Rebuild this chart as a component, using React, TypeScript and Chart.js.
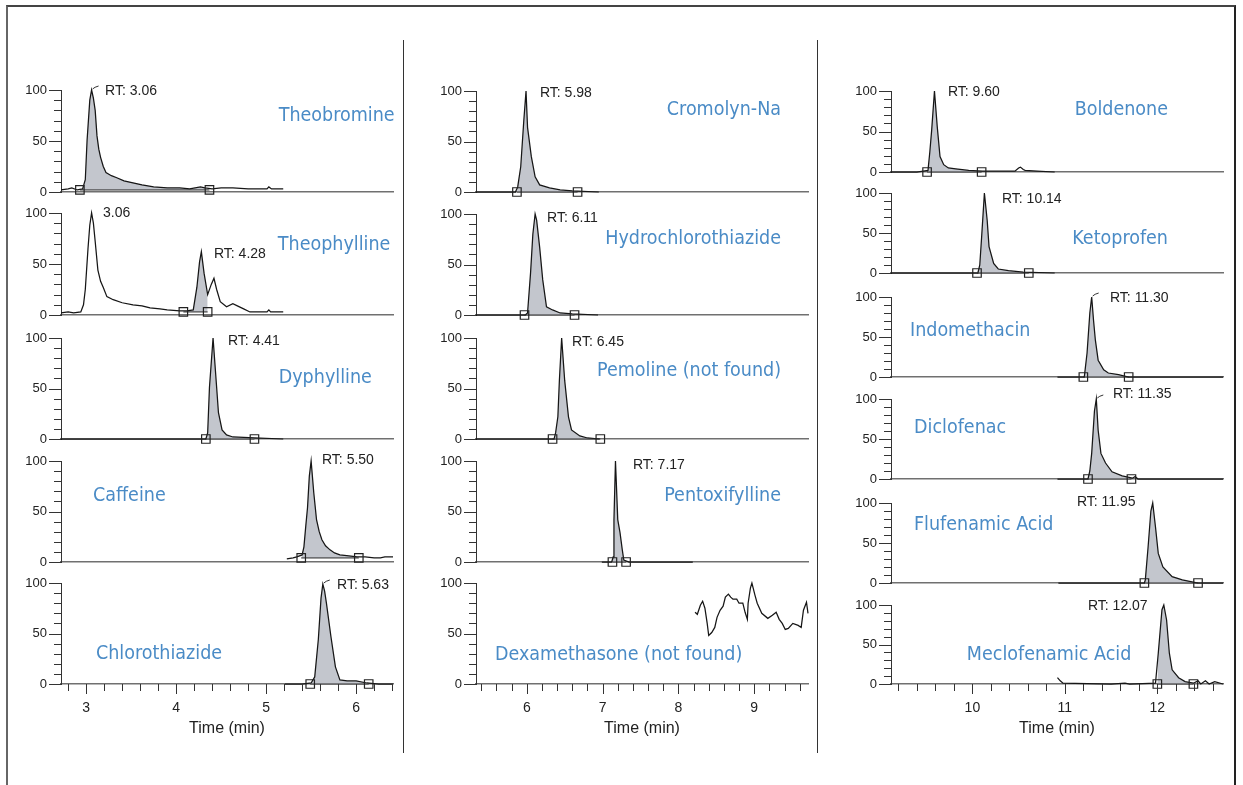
import React, { useEffect, useRef } from "react";
import { Chart, registerables } from "chart.js";

Chart.register(...registerables);

type Pt = [number, number];

// ---------- Column 1 traces: [time (min), relative abundance (%)] ----------
const theobromine: Pt[] = [[2.72,2],[2.8,3],[2.84,4],[2.9,2],[2.96,3],[2.99,12],[3.01,51],[3.04,90],[3.06,100],[3.08,92],[3.1,80],[3.12,55],[3.14,42],[3.16,34],[3.19,25],[3.22,19],[3.28,16],[3.34,14],[3.42,11],[3.52,9],[3.62,7],[3.75,5],[3.9,4],[4.04,4],[4.15,3],[4.27,5],[4.32,4],[4.4,3],[4.5,4],[4.63,4],[4.8,3],[5.01,3],[5.03,5],[5.06,3],[5.19,3]];
const theobromineMarks: Pt[] = [[2.93,2],[4.37,2]];

const theophylline: Pt[] = [[2.72,2],[2.8,3],[2.86,2],[2.94,3],[2.97,10],[2.99,25],[3.02,65],[3.04,88],[3.06,100],[3.08,90],[3.1,72],[3.13,44],[3.16,33],[3.19,27],[3.23,18],[3.3,15],[3.4,12],[3.52,10],[3.62,9],[3.71,7],[3.82,6],[3.9,5],[4.04,4],[4.12,4],[4.19,5],[4.23,27],[4.26,52],[4.28,62],[4.31,41],[4.35,20],[4.39,30],[4.42,36],[4.45,25],[4.49,13],[4.56,8],[4.63,11],[4.68,9],[4.75,6],[4.82,3],[5.01,3],[5.03,5],[5.05,3],[5.19,3]];
const theophyllineMarks: Pt[] = [[4.08,3],[4.35,3]];

const dyphylline: Pt[] = [[2.72,0],[3.5,0],[4.33,0],[4.35,6],[4.37,51],[4.41,100],[4.45,51],[4.47,26],[4.51,9],[4.56,4],[4.63,2],[4.87,1],[5.19,0]];
const dyphyllineMarks: Pt[] = [[4.33,0],[4.87,0]];

const caffeine: Pt[] = [[5.23,3],[5.3,4],[5.34,5],[5.4,7],[5.42,15],[5.44,35],[5.46,54],[5.48,85],[5.5,100],[5.53,68],[5.56,42],[5.59,30],[5.62,22],[5.66,16],[5.71,12],[5.76,9],[5.82,7],[5.92,6],[6.01,5],[6.1,5],[6.2,4],[6.27,4],[6.32,5],[6.41,5]];
const caffeineMarks: Pt[] = [[5.39,4],[6.03,4]];

const chlorothiazide: Pt[] = [[5.21,0],[5.4,0],[5.5,1],[5.54,7],[5.58,44],[5.61,85],[5.63,99],[5.65,92],[5.67,80],[5.72,47],[5.77,17],[5.82,4],[5.9,3],[6.0,3],[6.12,1],[6.25,0],[6.41,0]];
const chlorothiazideMarks: Pt[] = [[5.49,0],[6.14,0]];

// ---------- Column 2 traces ----------
const cromolyn: Pt[] = [[5.33,0],[5.6,0],[5.85,0],[5.88,5],[5.92,25],[5.96,70],[5.99,100],[6.01,64],[6.06,35],[6.11,15],[6.17,7],[6.3,4],[6.44,2],[6.6,1],[6.95,0]];
const cromolynMarks: Pt[] = [[5.87,0],[6.67,0]];

const hydrochlorothiazide: Pt[] = [[5.33,0],[5.7,0],[5.98,0],[6.01,2],[6.05,42],[6.08,80],[6.11,100],[6.13,94],[6.17,67],[6.21,35],[6.26,8],[6.34,5],[6.44,2],[6.6,1],[6.94,0]];
const hydrochlorothiazideMarks: Pt[] = [[5.97,0],[6.63,0]];

const pemoline: Pt[] = [[5.33,0],[5.8,0],[6.36,0],[6.38,6],[6.41,22],[6.43,58],[6.46,100],[6.5,58],[6.55,22],[6.59,9],[6.7,3],[6.8,1],[6.96,0]];
const pemolineMarks: Pt[] = [[6.34,0],[6.97,0]];

const pentoxifylline: Pt[] = [[6.99,0],[7.12,0],[7.14,5],[7.15,42],[7.17,100],[7.18,81],[7.2,42],[7.23,29],[7.26,12],[7.28,2],[7.35,0],[8.19,0]];
const pentoxifyllineMarks: Pt[] = [[7.13,0],[7.31,0]];

const dexamethasone: Pt[] = [[8.22,71],[8.25,69],[8.29,78],[8.32,82],[8.35,75],[8.38,60],[8.4,48],[8.44,51],[8.48,56],[8.51,66],[8.55,73],[8.59,77],[8.62,86],[8.66,89],[8.69,86],[8.72,84],[8.77,84],[8.8,80],[8.85,80],[8.88,71],[8.91,64],[8.92,80],[8.95,95],[8.97,100],[9.01,88],[9.04,80],[9.1,70],[9.18,65],[9.24,68],[9.29,71],[9.33,64],[9.37,60],[9.41,54],[9.45,55],[9.51,60],[9.58,58],[9.62,56],[9.65,73],[9.69,81],[9.71,70]];

// ---------- Column 3 traces ----------
const boldenone: Pt[] = [[9.12,0],[9.4,0],[9.52,2],[9.54,25],[9.56,52],[9.59,100],[9.62,56],[9.65,19],[9.69,9],[9.74,5],[9.82,4],[9.96,2],[10.11,1],[10.46,1],[10.5,5],[10.52,6],[10.55,3],[10.57,2],[10.7,1],[10.89,0]];
const boldenoneMarks: Pt[] = [[9.51,0],[10.1,0]];

const ketoprofen: Pt[] = [[9.12,0],[9.6,0],[10.06,0],[10.08,10],[10.1,45],[10.13,100],[10.16,66],[10.18,33],[10.23,12],[10.28,5],[10.39,3],[10.55,1],[10.89,0]];
const ketoprofenMarks: Pt[] = [[10.05,0],[10.61,0]];

const indomethacin: Pt[] = [[10.92,0],[11.21,0],[11.24,30],[11.27,80],[11.29,100],[11.31,71],[11.33,46],[11.36,21],[11.42,9],[11.47,5],[11.58,3],[11.69,0],[12.71,0]];
const indomethacinMarks: Pt[] = [[11.2,0],[11.69,0]];

const diclofenac: Pt[] = [[10.92,0],[11.25,0],[11.27,10],[11.29,32],[11.32,85],[11.34,100],[11.36,61],[11.39,32],[11.44,20],[11.51,9],[11.62,4],[11.73,1],[11.76,3],[11.79,0],[12.71,0]];
const diclofenacMarks: Pt[] = [[11.25,0],[11.72,0]];

const flufenamic: Pt[] = [[10.93,0],[11.86,0],[11.87,4],[11.9,45],[11.93,90],[11.95,100],[11.98,70],[12.01,37],[12.06,20],[12.16,8],[12.27,4],[12.44,0],[12.71,0]];
const flufenamicMarks: Pt[] = [[11.86,0],[12.44,0]];

const meclofenamic: Pt[] = [[10.92,8],[10.95,4],[10.98,1],[11.5,0],[11.65,1],[11.7,0],[11.98,1],[12.01,39],[12.05,94],[12.07,100],[12.1,81],[12.13,39],[12.16,18],[12.23,8],[12.3,3],[12.39,1],[12.44,4],[12.47,0],[12.52,4],[12.56,0],[12.62,3],[12.71,0]];
const meclofenamicMarks: Pt[] = [[12.0,0],[12.39,0]];

// ---------- Text ----------
const compoundNames = [
  "Theobromine", "Theophylline", "Dyphylline", "Caffeine", "Chlorothiazide",
  "Cromolyn-Na", "Hydrochlorothiazide", "Pemoline (not found)", "Pentoxifylline", "Dexamethasone (not found)",
  "Boldenone", "Ketoprofen", "Indomethacin", "Diclofenac", "Flufenamic Acid", "Meclofenamic Acid",
];
const rtLabels: string[][] = [
  ["RT: 3.06"], ["3.06", "RT: 4.28"], ["RT: 4.41"], ["RT: 5.50"], ["RT: 5.63"],
  ["RT: 5.98"], ["RT: 6.11"], ["RT: 6.45"], ["RT: 7.17"], [],
  ["RT: 9.60"], ["RT: 10.14"], ["RT: 11.30"], ["RT: 11.35"], ["RT: 11.95"], ["RT: 12.07"],
];
const xAxisTitle = "Time (min)";
const xMajorStep = 1;
const yTickStep = 50;

// ---------- Layout (positions & styles) ----------
const COLS = [
  { axisX: 61, min: 2.72, max: 6.41 },
  { axisX: 476, min: 5.33, max: 9.71 },
  { axisX: 891, min: 9.12, max: 12.71 },
];
const PLOT_W = 332;
const Y_W = 60;
const PAD_T = 26;
const PAD_R = 12;

type Align = "left" | "right" | "center";
interface PanelCfg {
  col: number; y100: number; y0: number; trace: Pt[]; marks?: Pt[];
  nameAt: [number, number, Align]; rtAt: [number, number][]; bottom?: boolean; apexTick?: boolean;
}

const PANELS: PanelCfg[] = [
  { col: 0, y100: 90, y0: 192, trace: theobromine, marks: theobromineMarks, nameAt: [5.14, 75, "left"], rtAt: [[3.21, 99]], apexTick: true },
  { col: 0, y100: 213, y0: 315, trace: theophylline, marks: theophyllineMarks, nameAt: [5.13, 68.6, "left"], rtAt: [[3.187, 100], [4.42, 60]] },
  { col: 0, y100: 338, y0: 439, trace: dyphylline, marks: dyphyllineMarks, nameAt: [5.14, 60.4, "left"], rtAt: [[4.576, 97]] },
  { col: 0, y100: 461, y0: 562, trace: caffeine, marks: caffeineMarks, nameAt: [3.076, 65.3, "left"], rtAt: [[5.621, 101]] },
  { col: 0, y100: 583, y0: 684, trace: chlorothiazide, marks: chlorothiazideMarks, nameAt: [3.109, 29.7, "left"], rtAt: [[5.788, 98]], bottom: true, apexTick: true },
  { col: 1, y100: 91, y0: 192, trace: cromolyn, marks: cromolynMarks, nameAt: [9.354, 81, "right"], rtAt: [[6.174, 97.5]] },
  { col: 1, y100: 214, y0: 315, trace: hydrochlorothiazide, marks: hydrochlorothiazideMarks, nameAt: [9.354, 75, "right"], rtAt: [[6.267, 96]] },
  { col: 1, y100: 338, y0: 439, trace: pemoline, marks: pemolineMarks, nameAt: [9.354, 67, "right"], rtAt: [[6.597, 96]] },
  { col: 1, y100: 461, y0: 562, trace: pentoxifylline, marks: pentoxifyllineMarks, nameAt: [9.354, 65, "right"], rtAt: [[7.401, 96]] },
  { col: 1, y100: 583, y0: 684, trace: dexamethasone, nameAt: [5.58, 29, "left"], rtAt: [], bottom: true },
  { col: 2, y100: 91, y0: 172, trace: boldenone, marks: boldenoneMarks, nameAt: [12.115, 76.5, "right"], rtAt: [[9.736, 99]] },
  { col: 2, y100: 193, y0: 273, trace: ketoprofen, marks: ketoprofenMarks, nameAt: [12.115, 42.5, "right"], rtAt: [[10.32, 92.5]] },
  { col: 2, y100: 297, y0: 377, trace: indomethacin, marks: indomethacinMarks, nameAt: [9.325, 57.5, "left"], rtAt: [[11.488, 99]], apexTick: true },
  { col: 2, y100: 399, y0: 479, trace: diclofenac, marks: diclofenacMarks, nameAt: [9.369, 64, "left"], rtAt: [[11.52, 106]], apexTick: true },
  { col: 2, y100: 503, y0: 583, trace: flufenamic, marks: flufenamicMarks, nameAt: [9.369, 73, "left"], rtAt: [[11.13, 101]] },
  { col: 2, y100: 605, y0: 684, trace: meclofenamic, marks: meclofenamicMarks, nameAt: [9.94, 37, "left"], rtAt: [[11.25, 99]], bottom: true },
];

const FONT_SANS = '"Liberation Sans", Arial, Helvetica, sans-serif';
const FONT_NAME = '"DejaVu Sans Condensed", "Liberation Sans Narrow", sans-serif';
const NAME_COLOR = "#4a8bc6";
const TEXT_COLOR = "#222222";
const TRACE_COLOR = "#161616";
const AREA_COLOR = "#c3c6cd";

Chart.defaults.font.family = FONT_SANS;

function geom(p: PanelCfg) {
  const col = COLS[p.col];
  const xH = p.bottom ? 62 : 26;
  return {
    left: col.axisX - Y_W,
    top: p.y100 - PAD_T,
    width: Y_W + PLOT_W + PAD_R,
    height: PAD_T + (p.y0 - p.y100) + xH,
    xH,
  };
}

function makeDecorPlugin(p: PanelCfg, idx: number) {
  const texts: { text: string; x: number; y: number; align: Align; font: string; color: string }[] = [];
  texts.push({ text: compoundNames[idx], x: p.nameAt[0], y: p.nameAt[1], align: p.nameAt[2], font: `19.5px ${FONT_NAME}`, color: NAME_COLOR });
  rtLabels[idx].forEach((t, k) => {
    const at = p.rtAt[k];
    texts.push({ text: t, x: at[0], y: at[1], align: "left", font: `14px ${FONT_SANS}`, color: TEXT_COLOR });
  });
  const apex = p.trace.reduce((a, b) => (b[1] > a[1] ? b : a), p.trace[0]);
  return {
    id: "panelDecor",
    afterDraw(chart: any) {
      const { ctx, chartArea } = chart;
      const xs = chart.scales.x;
      const ys = chart.scales.y;
      ctx.save();
      // axis tick marks (major + minor)
      ctx.strokeStyle = "#333";
      ctx.lineWidth = 1;
      for (let v = 0; v <= 100; v += 10) {
        const y = Math.round(ys.getPixelForValue(v)) + 0.5;
        const len = v % 50 === 0 ? 12 : 7;
        ctx.beginPath();
        ctx.moveTo(chartArea.left - len, y);
        ctx.lineTo(chartArea.left, y);
        ctx.stroke();
      }
      if (p.bottom) {
        const start = Math.ceil(xs.min * 5 - 1e-9);
        for (let k = start; k / 5 <= xs.max + 1e-9; k++) {
          const x = Math.round(xs.getPixelForValue(k / 5)) + 0.5;
          const len = k % 5 === 0 ? 10 : 7;
          ctx.beginPath();
          ctx.moveTo(x, chartArea.bottom);
          ctx.lineTo(x, chartArea.bottom + len);
          ctx.stroke();
        }
      }
      // small apex marker next to the labelled peak
      if (p.apexTick) {
        const ax = xs.getPixelForValue(apex[0]);
        const ay = ys.getPixelForValue(apex[1]);
        ctx.strokeStyle = "#333";
        ctx.lineWidth = 1;
        ctx.beginPath();
        ctx.moveTo(ax + 1, ay - 1);
        ctx.quadraticCurveTo(ax + 3, ay - 3, ax + 7, ay - 4);
        ctx.stroke();
      }
      ctx.textBaseline = "middle";
      for (const t of texts) {
        ctx.font = t.font;
        ctx.fillStyle = t.color;
        ctx.textAlign = t.align;
        ctx.fillText(t.text, xs.getPixelForValue(t.x), ys.getPixelForValue(t.y));
      }
      ctx.restore();
    },
  };
}

export default function App() {
  const refs = useRef<(HTMLCanvasElement | null)[]>([]);

  useEffect(() => {
    const charts = PANELS.map((p, i) => {
      const cv = refs.current[i]!;
      const col = COLS[p.col];
      const g = geom(p);
      const toXY = (a: Pt[]) => a.map(([x, y]) => ({ x, y }));
      const datasets: any[] = [
        {
          label: "trace",
          data: toXY(p.trace),
          borderColor: TRACE_COLOR,
          borderWidth: 1.25,
          pointRadius: 0,
          tension: 0,
          fill: false,
          clip: false,
          order: 2,
        },
      ];
      if (p.marks) {
        const s = p.marks[0];
        const e = p.marks[1];
        const inner = p.trace.filter(([x]) => x > s[0] && x <= e[0]);
        datasets.push({
          label: "area",
          data: toXY([s, ...inner, e]),
          borderWidth: 0,
          borderColor: "rgba(0,0,0,0)",
          backgroundColor: AREA_COLOR,
          pointRadius: 0,
          tension: 0,
          fill: { value: s[1] },
          clip: false,
          order: 3,
        });
        datasets.push({
          label: "marks",
          data: toXY(p.marks),
          showLine: true,
          borderColor: "#2a2a2a",
          borderWidth: 1,
          pointStyle: "rect",
          pointRadius: 6,
          pointBorderColor: "#222",
          pointBorderWidth: 1.2,
          pointBackgroundColor: "rgba(255,255,255,0)",
          fill: false,
          clip: false,
          order: 1,
        });
      }
      return new Chart(cv, {
        type: "line",
        data: { datasets },
        options: {
          animation: false,
          responsive: false,
          events: [],
          layout: { autoPadding: false, padding: { top: PAD_T, right: PAD_R, left: 0, bottom: 0 } } as any,
          plugins: { legend: { display: false }, tooltip: { enabled: false } },
          scales: {
            x: {
              type: "linear",
              min: col.min,
              max: col.max,
              ticks: {
                display: !!p.bottom,
                stepSize: xMajorStep,
                includeBounds: false,
                padding: 16,
                color: TEXT_COLOR,
                font: { size: 14, family: FONT_SANS },
              } as any,
              grid: { display: false, drawTicks: false },
              border: { display: true, color: "#707070", width: 1.5 },
              title: {
                display: !!p.bottom,
                text: xAxisTitle,
                color: TEXT_COLOR,
                font: { size: 16, family: FONT_SANS },
                padding: { top: 0, bottom: 8 },
              },
              afterFit: (s: any) => { s.height = g.xH; },
            },
            y: {
              type: "linear",
              min: 0,
              max: 100,
              ticks: {
                stepSize: yTickStep,
                padding: 14,
                color: TEXT_COLOR,
                font: { size: 13, family: FONT_SANS },
              },
              grid: { display: false, drawTicks: false },
              border: { display: true, color: "#333", width: 1 },
              afterFit: (s: any) => { s.width = Y_W; },
            },
          },
        } as any,
        plugins: [makeDecorPlugin(p, i)],
      });
    });
    return () => charts.forEach((c) => c.destroy());
  }, []);

  return (
    <div style={{ position: "absolute", left: 0, top: 0, width: 1243, height: 785, background: "#fff", overflow: "hidden" }}>
      <div style={{ position: "absolute", left: 6, top: 5, width: 1226, height: 820, borderLeft: "2px solid #666", borderTop: "2px solid #444", borderRight: "2px solid #222" }} />
      <div style={{ position: "absolute", left: 403, top: 40, width: 1, height: 713, background: "#333" }} />
      <div style={{ position: "absolute", left: 817, top: 40, width: 1, height: 713, background: "#333" }} />
      {PANELS.map((p, i) => {
        const g = geom(p);
        return (
          <canvas
            key={i}
            ref={(el) => { refs.current[i] = el; }}
            width={g.width}
            height={g.height}
            style={{ position: "absolute", left: g.left, top: g.top, width: g.width, height: g.height }}
          />
        );
      })}
    </div>
  );
}
